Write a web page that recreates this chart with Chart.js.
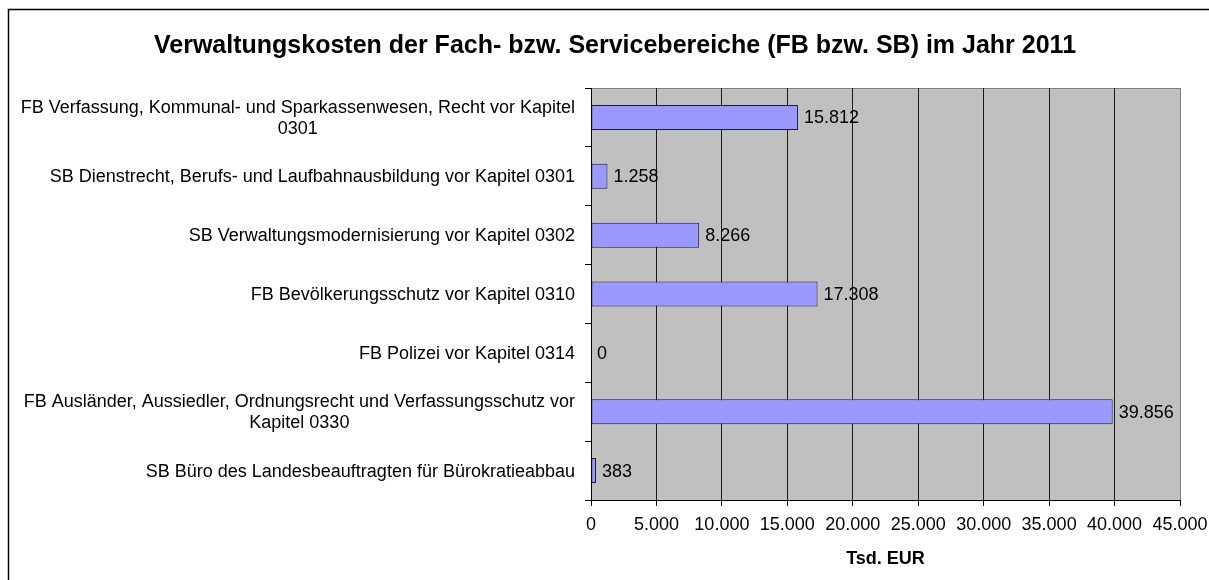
<!DOCTYPE html>
<html><head><meta charset="utf-8">
<script src="https://cdn.jsdelivr.net/npm/chart.js@4.4.0/dist/chart.umd.min.js"></script>
<style>html,body{margin:0;padding:0;background:#fff;overflow:hidden}</style>
</head><body>
<canvas id="c" width="1209" height="580"></canvas>
<script>
const chartTitle = "Verwaltungskosten der Fach- bzw. Servicebereiche (FB bzw. SB) im Jahr 2011";
const axisTitle = "Tsd. EUR";
const categories = [
  ["FB Verfassung, Kommunal- und Sparkassenwesen, Recht vor Kapitel", "0301"],
  ["SB Dienstrecht, Berufs- und Laufbahnausbildung vor Kapitel 0301"],
  ["SB Verwaltungsmodernisierung vor Kapitel 0302"],
  ["FB Bevölkerungsschutz vor Kapitel 0310"],
  ["FB Polizei vor Kapitel 0314"],
  ["FB Ausländer, Aussiedler, Ordnungsrecht und Verfassungsschutz vor", "Kapitel 0330"],
  ["SB Büro des Landesbeauftragten für Bürokratieabbau"]
];
const costs = [15812, 1258, 8266, 17308, 0, 39856, 383];
const xMin = 0, xMax = 45000, xStep = 5000;

const FONT = 'Arial, "Liberation Sans", sans-serif';
function fmt(v) { return String(Math.round(v)).replace(/\B(?=(\d{3})+(?!\d))/g, '.'); }

const decor = {
  id: 'decor',
  beforeDraw(chart) {
    const {ctx, chartArea: a} = chart;
    ctx.save();
    ctx.fillStyle = '#fff';
    ctx.fillRect(0, 0, chart.width, chart.height);
    ctx.strokeStyle = '#000';
    ctx.lineWidth = 1.5;
    ctx.strokeRect(8.5, 9.5, chart.width + 10, chart.height + 10);
    ctx.fillStyle = '#C0C0C0';
    ctx.fillRect(a.left, a.top, a.right - a.left, a.bottom - a.top);
    ctx.strokeStyle = '#808080';
    ctx.lineWidth = 1;
    ctx.strokeRect(a.left + 0.5, a.top + 0.5, a.right - a.left, a.bottom - a.top);
    ctx.restore();
  },
  afterDraw(chart) {
    const {ctx} = chart;
    const ys = chart.scales.y;
    ctx.save();
    ctx.font = '18px ' + FONT;
    ctx.fillStyle = '#000';
    ctx.textBaseline = 'middle';
    ctx.textAlign = 'center';
    const rightEdge = ys.right - 16;
    const lh = 20.5;
    categories.forEach((lines, i) => {
      const y = ys.getPixelForTick(i);
      const w = Math.max(...lines.map(l => ctx.measureText(l).width));
      const cx = rightEdge - w / 2;
      const y0 = y - (lines.length - 1) * lh / 2;
      lines.forEach((l, j) => ctx.fillText(l, cx, y0 + j * lh + 1));
    });
    // value labels
    const meta = chart.getDatasetMeta(0);
    ctx.textAlign = 'left';
    meta.data.forEach((bar, i) => {
      ctx.fillText(fmt(costs[i]), bar.x + 6, bar.y + 1);
    });
    ctx.restore();
  }
};

new Chart(document.getElementById('c'), {
  type: 'bar',
  data: {
    labels: categories.map(c => c.join(' ')),
    datasets: [{
      data: costs,
      backgroundColor: '#9999FF',
      borderColor: '#1a1a40',
      borderWidth: 1,
      borderSkipped: false,
      barPercentage: 0.425,
      categoryPercentage: 1
    }]
  },
  options: {
    indexAxis: 'y',
    responsive: false,
    animation: false,
    devicePixelRatio: 1,
    layout: { padding: { left: 21, right: 0, top: 0, bottom: 0 } },
    plugins: {
      legend: { display: false },
      tooltip: { enabled: false },
      title: {
        display: true,
        text: chartTitle,
        color: '#000',
        font: { family: FONT, size: 25, weight: 'bold' },
        padding: { top: 31, bottom: 27 }
      }
    },
    scales: {
      x: {
        type: 'linear',
        min: xMin, max: xMax,
        afterFit(s) { s.height = 80; s.paddingRight = 29; },
        ticks: {
          stepSize: xStep,
          color: '#000',
          font: { family: FONT, size: 18 },
          padding: 8,
          maxRotation: 0,
          callback: v => fmt(v)
        },
        grid: {
          color: c => (c.tick && c.tick.value === xMax) ? '#808080' : '#1a1a1a',
          tickColor: '#000',
          tickLength: 6,
          lineWidth: 1
        },
        border: { color: '#000', width: 1 },
        title: {
          display: true,
          text: axisTitle,
          color: '#000',
          font: { family: FONT, size: 18, weight: 'bold' },
          padding: { top: 0, bottom: 10 }
        }
      },
      y: {
        afterFit(s) { s.width = 570; },
        ticks: { display: false },
        grid: {
          offset: true,
          drawOnChartArea: false,
          drawTicks: true,
          tickLength: 6,
          color: '#000'
        },
        border: { color: '#000', width: 1 }
      }
    }
  },
  plugins: [decor]
});
</script>
</body></html>
